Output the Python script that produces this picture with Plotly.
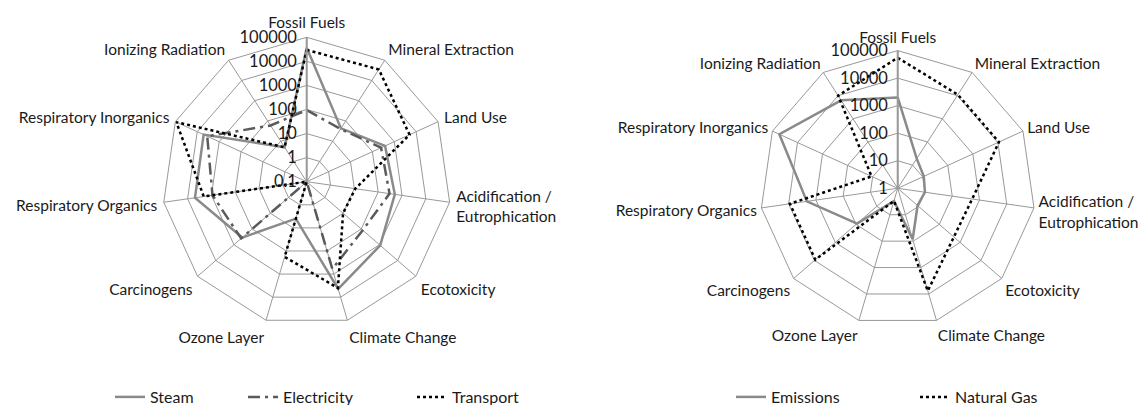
import plotly.graph_objects as go

categories = ["Fossil Fuels", "Mineral Extraction", "Land Use",
              "Acidification /<br>Eutrophication", "Ecotoxicity", "Climate Change",
              "Ozone Layer", "Carcinogens", "Respiratory Organics",
              "Respiratory Inorganics", "Ionizing Radiation"]

steam = [37000, 43, 380, 500, 1100, 4400, 4, 350, 4900, 5100, 5]
electricity = [95, 40, 250, 300, 120, 600, 0.1, 400, 900, 3500, 60]
transport = [30000, 35000, 5000, 11, 10, 4000, 180, 0.1, 2100, 90000, 5]

emissions = [2000, 19, 11, 10, 9, 85, 3, 90, 2150, 53000, 6300]
natural_gas = [55000, 11000, 11000, 540, 500, 7600, 3, 9100, 9000, 11, 10000]

left_ticks = [0.1, 1, 10, 100, 1000, 10000, 100000]
left_ticktext = ["0.1", "1", "10", "100", "1000", "10000", "100000"]
right_ticks = [1, 10, 100, 1000, 10000, 100000]
right_ticktext = ["1", "10", "100", "1000", "10000", "100000"]

OFF = 8  # page body margin
W, H = 1146 - OFF, 405 - OFF
FONT = "Lato"
GRID = "#999999"
TXT = "#1a1a1a"


def closed(v):
    return list(v) + [v[0]]


theta = closed(categories)

fig = go.Figure()

series_left = [
    ("Steam", steam, dict(color="#8a8a8a", width=2.5, dash="solid"), "legend"),
    ("Electricity", electricity, dict(color="#5a5a5a", width=2.5, dash="12px,5px,3px,5px"), "legend2"),
    ("Transport", transport, dict(color="#000000", width=2.5, dash="dot"), "legend3"),
]
for name, vals, line, leg in series_left:
    fig.add_trace(go.Scatterpolar(r=closed(vals), theta=theta, mode="lines", name=name,
                                  line=line, subplot="polar", legend=leg))

series_right = [
    ("Emissions", emissions, dict(color="#8a8a8a", width=2.5, dash="solid"), "legend4"),
    ("Natural Gas", natural_gas, dict(color="#000000", width=2.5, dash="dot"), "legend5"),
]
for name, vals, line, leg in series_right:
    fig.add_trace(go.Scatterpolar(r=closed(vals), theta=theta, mode="lines", name=name,
                                  line=line, subplot="polar2", legend=leg))


def px_dom(cx, cy, rad):
    cx -= OFF
    cy -= OFF
    return dict(x=[(cx - rad) / W, (cx + rad) / W],
                y=[1 - (cy + rad) / H, 1 - (cy - rad) / H])


def polar_cfg(dom, rng, tv, tt, tl):
    return dict(
        domain=dom,
        bgcolor="white",
        gridshape="linear",
        angularaxis=dict(direction="clockwise", rotation=90, type="category",
                         categoryarray=categories,
                         showline=True, linecolor=GRID, linewidth=1,
                         gridcolor=GRID, gridwidth=1,
                         ticks="outside", ticklen=tl, tickcolor="rgba(0,0,0,0)",
                         tickfont=dict(family=FONT, size=15.5, color=TXT)),
        radialaxis=dict(type="log", range=rng, tickmode="array", tickvals=tv, ticktext=tt,
                        angle=90, tickangle=90, side="counterclockwise",
                        showline=True, linecolor=GRID, linewidth=2,
                        gridcolor=GRID, gridwidth=1,
                        ticks="outside", ticklen=3, tickcolor="rgba(0,0,0,0)",
                        tickfont=dict(family=FONT, size=16.5, color=TXT)),
    )


leg_common = dict(orientation="h", yanchor="bottom", xanchor="left",
                  bgcolor="rgba(0,0,0,0)", font=dict(family=FONT, size=16, color=TXT))
ly = -9 / H


def lx(text_start):
    return (text_start - OFF - 40) / W


fig.update_layout(
    width=W, height=H,
    margin=dict(l=0, r=0, t=0, b=0, autoexpand=False),
    paper_bgcolor="white",
    polar=polar_cfg(px_dom(306.7, 181.7, 144.4), [-1, 5], left_ticks, left_ticktext, 3),
    polar2=polar_cfg(px_dom(897.7, 188.3, 137.7), [0, 5], right_ticks, right_ticktext, 1),
    showlegend=True,
    legend=dict(x=lx(150), y=ly, **leg_common),
    legend2=dict(x=lx(283), y=ly, **leg_common),
    legend3=dict(x=lx(452), y=ly, **leg_common),
    legend4=dict(x=lx(771), y=ly, **leg_common),
    legend5=dict(x=lx(955), y=ly, **leg_common),
)

fig.write_html("out.html")
